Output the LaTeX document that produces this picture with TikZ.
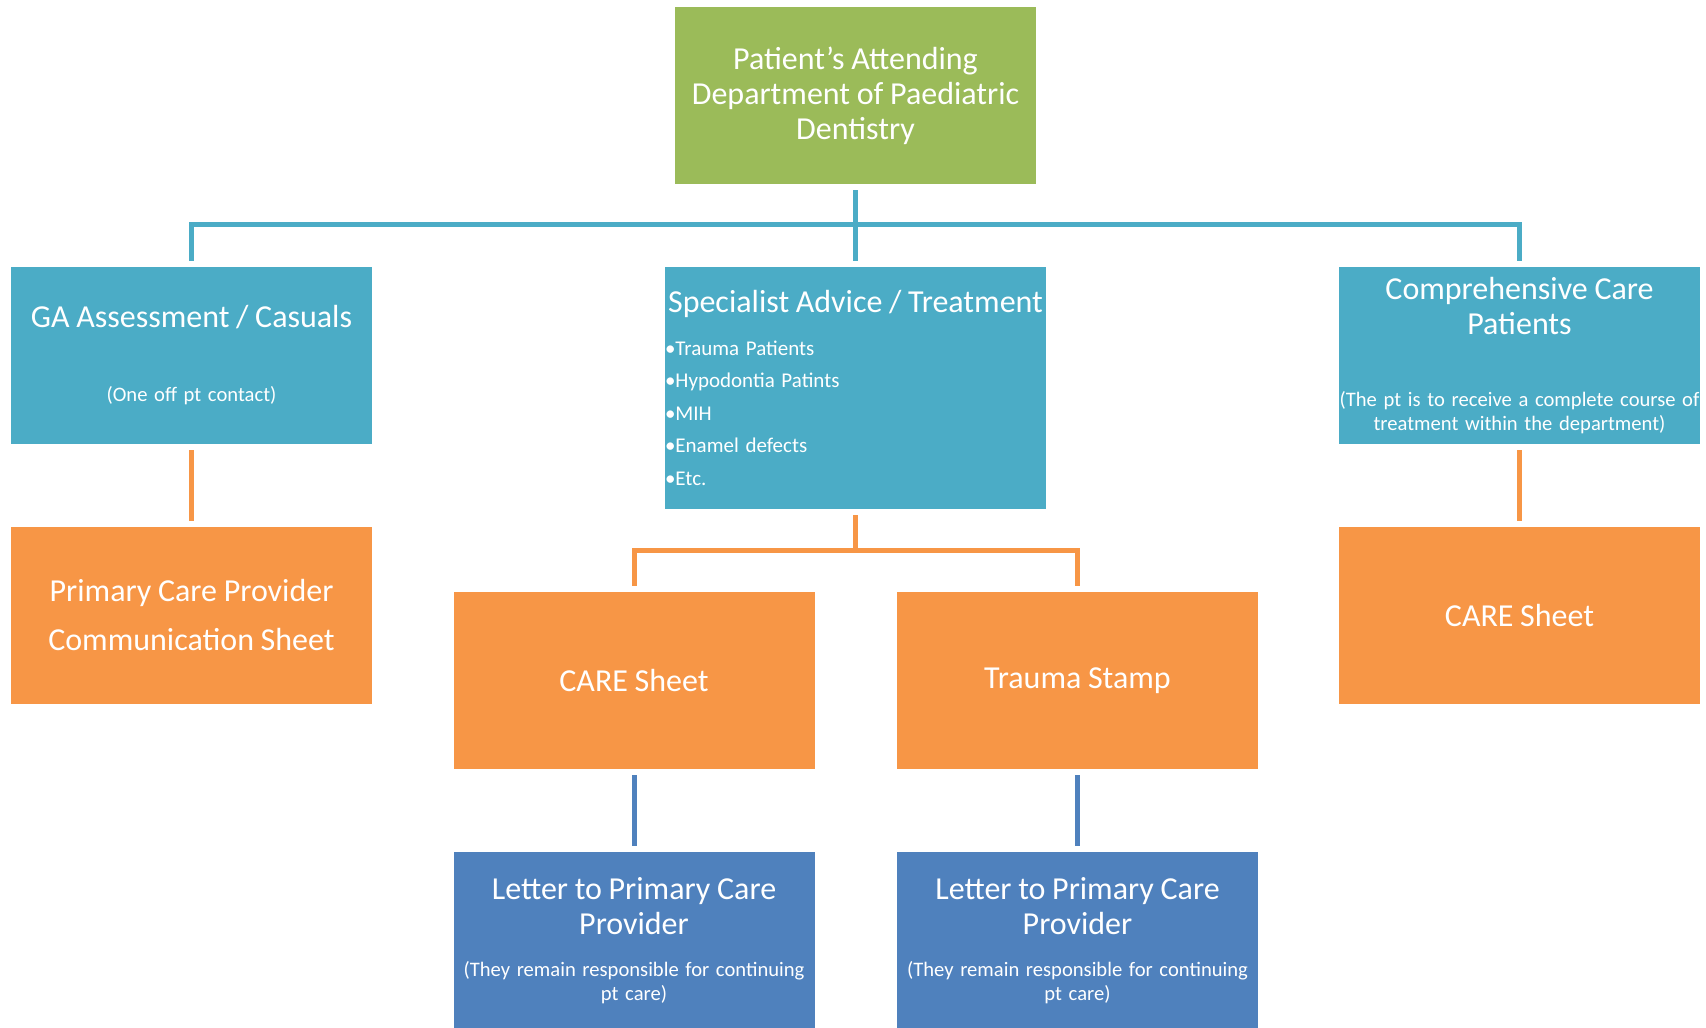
\documentclass[tikz,border=0pt]{standalone}
\usepackage{fontspec}
\setmainfont{Carlito}
\usepackage{tikz}

\definecolor{leafgreen}{HTML}{9BBB59}
\definecolor{seablue}{HTML}{4BACC6}
\definecolor{tangerine}{HTML}{F79646}
\definecolor{steelblue}{HTML}{4F81BD}

\newcommand{\headfont}{\fontsize{16}{17.5}\selectfont}
\newcommand{\notefont}{\fontsize{10.3}{12}\selectfont}
\newcommand{\listfont}{\fontsize{10.5}{16.3}\selectfont}

\tikzset{
  card/.style={rectangle, fill=#1, text=white, inner sep=0pt, minimum height=88.5pt, text width=180.5pt, align=center},
  linkline/.style={line width=2.5pt, color=#1, shorten <=3pt, shorten >=3pt},
}

\begin{document}
\begin{tikzpicture}[x=0.5pt, y=-0.5pt]
\useasboundingbox (0,0) rectangle (1706,1027);

  \node[card=leafgreen] (dept) at (855.5,95.5) {\headfont Patient’s Attending\par Department of Paediatric\par Dentistry\par};

  \node[card=seablue] (ga) at (191.5,355.5) {{\headfont GA Assessment / Casuals\par}\vspace{25pt}{\notefont (One off pt contact)\par}};
  \node[card=seablue, text width=190.5pt, minimum height=121pt, align=left] (spec) at (855.5,388) {{\centering\headfont Specialist Advice / Treatment\par}\vspace{5pt}{\listfont •Trauma Patients\par •Hypodontia Patints\par •MIH\par •Enamel defects\par •Etc.\par}};
  \node[card=seablue] (comp) at (1519.5,355.5) {{\headfont Comprehensive Care\par Patients\par}\vspace{24pt}{\notefont (The pt is to receive a complete course of\par treatment within the department)\par}};

  \node[card=tangerine] (pcp) at (191.5,615.5) {{\headfont Primary Care Provider\par}\vspace{7pt}{\headfont Communication Sheet\par}};
  \node[card=tangerine] (sheetright) at (1519.5,615.5) {\headfont CARE Sheet};
  \node[card=tangerine] (sheetmid) at (634,680.5) {\headfont CARE Sheet};
  \node[card=tangerine] (stamp) at (1077.5,680.5) {\headfont Trauma Stamp};

  \node[card=steelblue] (lettermid) at (634,940.5) {{\headfont Letter to Primary Care\par Provider\par}\vspace{9pt}{\notefont (They remain responsible for continuing\par pt care)\par}};
  \node[card=steelblue] (letterright) at (1077.5,940.5) {{\headfont Letter to Primary Care\par Provider\par}\vspace{9pt}{\notefont (They remain responsible for continuing\par pt care)\par}};

  \coordinate (topbus) at (855.5,225);
  \coordinate (midbus) at (855.5,550);

  \draw[linkline=seablue] (dept.south) -- (spec.north);
  \draw[linkline=seablue] (ga.north) |- (topbus) -| (comp.north);
  \draw[linkline=tangerine] (ga.south) -- (pcp.north);
  \draw[linkline=tangerine] (comp.south) -- (sheetright.north);
  \draw[linkline=tangerine, shorten >=0pt] (spec.south) -- (midbus);
  \draw[linkline=tangerine] (sheetmid.north) |- (midbus) -| (stamp.north);
  \draw[linkline=steelblue] (sheetmid.south) -- (lettermid.north);
  \draw[linkline=steelblue] (stamp.south) -- (letterright.north);

\end{tikzpicture}
\end{document}
